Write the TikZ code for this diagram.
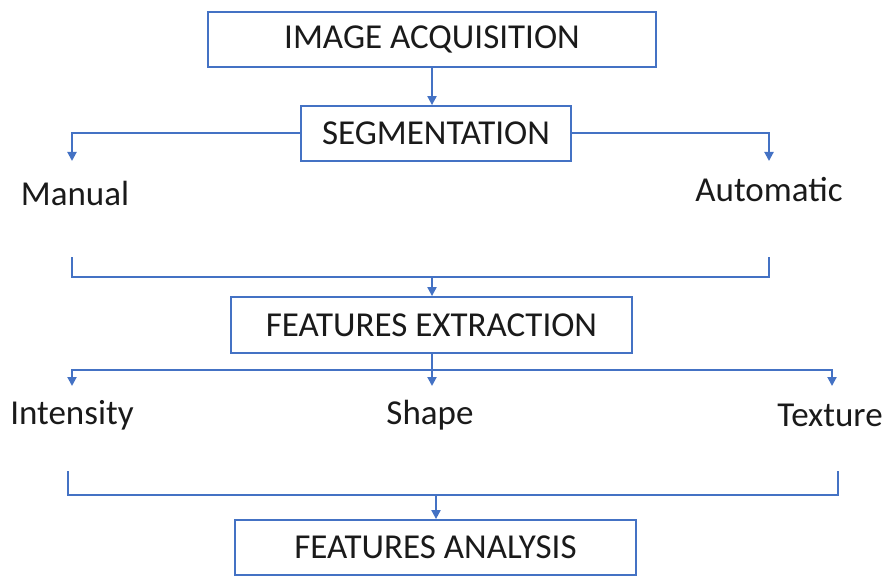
\documentclass[tikz,border=0pt]{standalone}
\usepackage{fontspec}
\setmainfont{Carlito}
\usetikzlibrary{arrows.meta}
\definecolor{flowblue}{HTML}{4472C4}
\definecolor{ink}{HTML}{1A1A1A}
\tikzset{
  box/.style={draw=flowblue, line width=1.8pt, fill=white, inner sep=0pt,
              text=ink, font=\fontsize{35}{40}\selectfont},
  lbl/.style={text=ink, inner sep=0pt, font=\fontsize{35}{40}\selectfont},
  link/.style={draw=flowblue, line width=2pt},
  arr/.style={link, -{Triangle[width=9pt,length=9pt]}}
}
\begin{document}
\begin{tikzpicture}[x=1pt,y=-1pt]
\useasboundingbox (0,0) rectangle (885,577);

% process boxes
\node[box, minimum width=448, minimum height=55] (acq) at (432,39.5) {IMAGE ACQUISITION};
\node[box, minimum width=270, minimum height=55] (seg) at (436,133.5) {SEGMENTATION};
\node[box, minimum width=401, minimum height=56] (fe)  at (431.5,325) {FEATURES EXTRACTION};
\node[box, minimum width=401, minimum height=55] (fa)  at (435.5,547.5) {FEATURES ANALYSIS};

% branch labels
\node[lbl] (man)  at (75,193)  {Manual};
\node[lbl] (auto) at (769,190) {Automatic};
\node[lbl] (int)  at (72,415)  {Intensity};
\node[lbl] (shp)  at (430,415) {Shape};
\node[lbl] (tex)  at (830,415) {Texture};

% connector end points
\coordinate (manIn)  at (72,161);
\coordinate (autoIn) at (769,161);
\coordinate (manOut) at (72,257);
\coordinate (autoOut) at (769,257);
\coordinate (feJoin) at (432,277);
\coordinate (split)  at (432,370);
\coordinate (intIn)  at (72,386);
\coordinate (shpIn)  at (432,386);
\coordinate (texIn)  at (832,386);
\coordinate (intOut) at (68,471);
\coordinate (texOut) at (838,471);
\coordinate (faJoin) at (436,495);

% acquisition -> segmentation
\draw[arr] (acq.south) -- (acq.south |- seg.north);

% segmentation branches
\draw[arr] (seg.west) -| (manIn);
\draw[arr] (seg.east) -| (autoIn);

% merge into feature extraction
\draw[link] (manOut) |- (feJoin) -| (autoOut);
\draw[arr] (feJoin) -- (feJoin |- fe.north);

% feature extraction branches
\draw[link] (fe.south -| split) -- (split);
\draw[arr] (split) -| (intIn);
\draw[arr] (split) -- (shpIn);
\draw[arr] (split) -| (texIn);

% merge into feature analysis
\draw[link] (intOut) |- (faJoin) -| (texOut);
\draw[arr] (faJoin) -- (faJoin |- fa.north);
\end{tikzpicture}
\end{document}
